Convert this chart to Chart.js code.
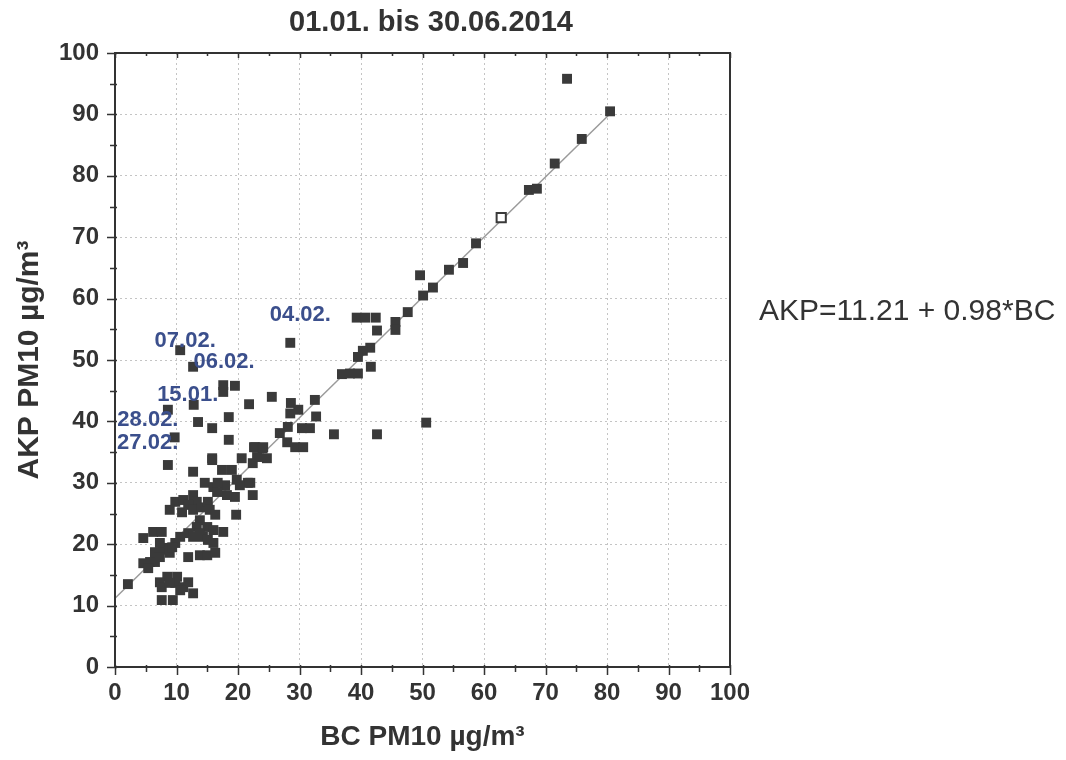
<!DOCTYPE html>
<html>
<head>
<meta charset="utf-8">
<script src="https://cdn.jsdelivr.net/npm/chart.js@4.4.0/dist/chart.umd.min.js"></script>
<style>
  html, body { margin: 0; padding: 0; background: #fff; }
  #wrap { width: 1066px; height: 760px; }
</style>
</head>
<body>
<div id="wrap"><canvas id="myscatter" width="1066" height="760"></canvas></div>
<script>
// values (BC x, AKP y)
const bcValues = [73.5, 80.5, 75.9, 71.5, 67.3, 68.6, 58.7, 56.6, 54.3, 49.6, 51.7, 50.1, 47.6, 45.6, 45.6,
  39.3, 40.7, 42.4, 42.6, 41.5, 40.3, 39.5, 41.6, 36.9, 38.2, 39.5, 50.6, 42.6, 35.6,
  28.5, 25.5, 28.6, 32.5, 29.8, 28.5, 32.7, 28.1, 30.4, 31.7, 26.8, 28.0, 29.3, 30.6,
  10.6, 12.7, 12.8, 8.6, 9.7,
  17.6, 19.5, 17.6, 21.8, 13.5, 15.8, 18.5, 18.5, 22.6, 22.8, 24.0, 15.8, 20.6, 24.7, 22.4, 17.4, 19.0,
  19.8, 22.0, 14.6, 16.0, 17.9, 8.6, 12.7, 15.8, 21.6, 22.4, 19.7, 17.6, 16.0, 19.5, 18.2, 16.6, 16.7,
  20.3, 23.1, 24.1,
  9.8, 11.1, 12.7, 13.3, 11.9, 8.9, 10.9, 12.7, 14.1, 15.1, 15.4, 16.3, 13.8, 15.0, 16.0, 13.3, 11.9,
  13.8, 12.7, 14.3, 15.1, 10.6, 9.8, 8.5, 6.5, 6.5, 4.6, 6.2, 7.6, 7.8, 8.9, 7.3, 5.7, 4.6, 5.4, 7.3,
  9.3, 11.9, 13.8, 15.0, 16.3, 7.3, 8.5, 7.6, 9.8, 10.1, 8.9, 11.1, 11.9, 10.6, 12.7, 7.6, 9.4, 2.1];
const akpValues = [95.8, 90.5, 86.0, 82.0, 77.7, 77.9, 69.0, 65.8, 64.7, 63.8, 61.8, 60.5, 57.8, 56.2, 54.9,
  56.9, 56.9, 56.9, 54.8, 52.0, 51.5, 50.5, 48.9, 47.7, 47.8, 47.8, 39.8, 37.9, 37.9,
  52.8, 44.0, 43.0, 43.5, 41.9, 41.3, 40.8, 39.1, 38.9, 38.9, 38.1, 36.6, 35.8, 35.8,
  51.6, 48.9, 42.7, 41.9, 37.4,
  45.9, 45.8, 44.8, 42.8, 39.9, 38.9, 40.7, 37.0, 35.8, 35.8, 35.6, 34.0, 34.0, 34.0, 33.2, 32.1, 32.1,
  30.5, 30.0, 30.0, 29.3, 29.6, 32.9, 31.8, 33.7, 30.0, 28.0, 24.8, 22.0, 20.2, 27.7, 28.0, 28.5, 30.0,
  29.6, 34.2, 35.8,
  26.9, 27.2, 28.0, 26.9, 26.4, 25.6, 25.2, 25.6, 26.0, 26.9, 25.6, 24.8, 23.9, 22.8, 22.3, 22.8, 21.8,
  21.8, 21.2, 21.2, 20.7, 21.2, 20.2, 19.4, 18.7, 17.1, 21.0, 22.0, 22.0, 19.1, 18.6, 17.9, 17.1, 16.9, 16.1, 20.2,
  19.5, 17.9, 18.2, 18.2, 18.6, 13.8, 14.7, 13.0, 13.7, 14.7, 13.7, 13.0, 13.8, 12.5, 12.0, 10.9, 10.9, 13.5];

// open marker
const openBc = [62.8];
const openAkp = [73.2];

// fitted line end points as seen in the picture
const fitBc = [0, 81];
const fitAkp = [11.2, 90.6];

// labelled days
const dayNames = ['07.02.', '06.02.', '15.01.', '28.02.', '27.02.', '04.02.'];
const dayBc = [10.6, 12.7, 12.8, 8.6, 9.7, 28.5];
const dayAkp = [51.6, 48.9, 42.7, 41.9, 37.4, 52.8];

const titleText = '01.01. bis 30.06.2014';
const equationText = 'AKP=11.21 + 0.98*BC';
const xTitle = 'BC PM10 µg/m³';
const yTitle = 'AKP PM10 µg/m³';

const pts = bcValues.map((v, i) => ({x: v, y: akpValues[i]}));
const openPts = openBc.map((v, i) => ({x: v, y: openAkp[i]}));
const fitPts = fitBc.map((v, i) => ({x: v, y: fitAkp[i]}));

const FONT = "'Liberation Sans', Arial, sans-serif";
const INK = '#333';

const framePlugin = {
  id: 'frame',
  afterDraw(chart) {
    const c = chart.ctx, a = chart.chartArea;
    const xs = chart.scales.x, ys = chart.scales.y;
    c.save();
    c.strokeStyle = INK;
    c.lineWidth = 2;
    c.strokeRect(a.left, a.top, a.right - a.left, a.bottom - a.top);
    c.lineWidth = 1.5;
    c.beginPath();
    for (let v = 0; v <= 100; v += 5) {
      const len = v % 10 === 0 ? 8 : 5;
      const px = Math.round(xs.getPixelForValue(v)) + 0.5;
      c.moveTo(px, a.bottom - 2); c.lineTo(px, a.bottom + len);
      c.moveTo(px, a.top); c.lineTo(px, a.top + (v % 10 === 0 ? 5 : 3));
      const py = Math.round(ys.getPixelForValue(v)) + 0.5;
      c.moveTo(a.left + 2, py); c.lineTo(a.left - len, py);
    }
    c.stroke();

    // title
    c.fillStyle = INK;
    c.font = 'bold 29px ' + FONT;
    c.textAlign = 'center';
    c.textBaseline = 'middle';
    c.fillText(titleText, 431, 23);

    // equation
    c.font = '30px ' + FONT;
    c.textAlign = 'left';
    c.fillText(equationText, 759, 312);

    // day labels
    const offs = [[5, -9], [31, -5], [-6, -10], [-20, 10], [-27, 6], [10, -28]];
    c.font = 'bold 22px ' + FONT;
    c.fillStyle = '#3b4f8c';
    c.textAlign = 'center';
    dayNames.forEach((n, i) => {
      const px = xs.getPixelForValue(dayBc[i]) + offs[i][0];
      const py = ys.getPixelForValue(dayAkp[i]) + offs[i][1];
      c.fillText(n, px, py);
    });
    c.restore();
  }
};

const ctx = document.getElementById('myscatter').getContext('2d');
const myChart = new Chart(ctx, {
  type: 'scatter',
  data: {
    datasets: [{
      type: 'line',
      data: fitPts,
      borderColor: '#9a9a9a',
      borderWidth: 1.5,
      pointRadius: 0,
      showLine: true,
      order: 3
    }, {
      data: pts,
      pointStyle: 'rect',
      pointRadius: 7,
      backgroundColor: '#3a3a3a',
      borderColor: '#3a3a3a',
      borderWidth: 0,
      order: 1
    }, {
      data: openPts,
      pointStyle: 'rect',
      pointRadius: 6.5,
      backgroundColor: '#fff',
      borderColor: '#3a3a3a',
      borderWidth: 2,
      order: 0
    }]
  },
  options: {
    responsive: false,
    animation: false,
    events: [],
    layout: { padding: { left: 0, right: 336, top: 53, bottom: 0 } },
    plugins: {
      legend: { display: false },
      tooltip: { enabled: false },
      title: { display: false }
    },
    scales: {
      x: {
        type: 'linear',
        min: 0, max: 100,
        ticks: { stepSize: 10, color: INK, padding: 12, font: { family: FONT, size: 24, weight: 'bold' } },
        grid: { color: '#c4c4c4', lineWidth: 1, drawTicks: false },
        border: { display: false, dash: [2, 3] },
        title: { display: true, text: xTitle, color: INK, padding: { top: 0, bottom: 6 }, font: { family: FONT, size: 28, weight: 'bold' } },
        afterFit(s) { s.height = 93; }
      },
      y: {
        type: 'linear',
        min: 0, max: 100,
        ticks: { stepSize: 10, color: INK, padding: 16, font: { family: FONT, size: 24, weight: 'bold' } },
        grid: { color: '#c4c4c4', lineWidth: 1, drawTicks: false },
        border: { display: false, dash: [2, 3] },
        title: { display: true, text: yTitle, color: INK, padding: { top: 12, bottom: 0 }, font: { family: FONT, size: 30, weight: 'bold' } },
        afterFit(s) { s.width = 115; }
      }
    }
  },
  plugins: [framePlugin]
});
</script>
</body>
</html>
